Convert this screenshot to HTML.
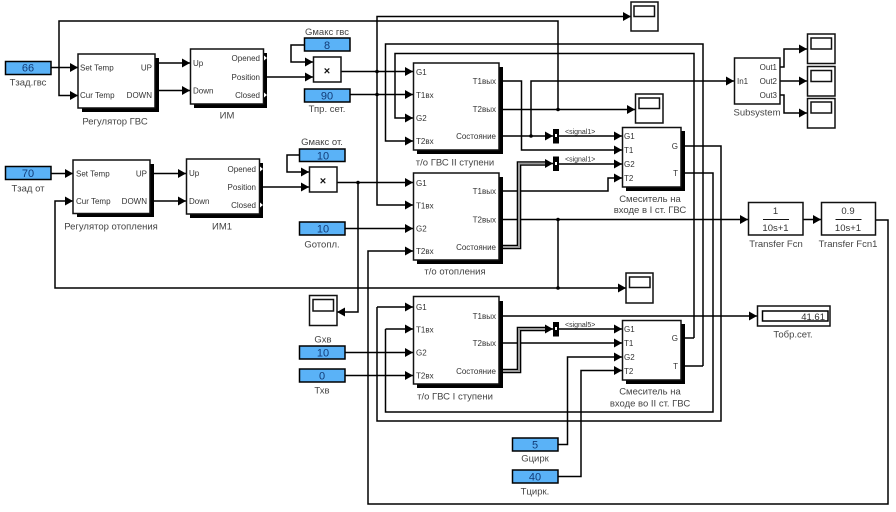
<!DOCTYPE html>
<html><head><meta charset="utf-8"><style>
html,body{margin:0;padding:0;background:#fff;width:896px;height:512px;overflow:hidden}
svg{display:block}
text{font-family:"Liberation Sans","DejaVu Sans",sans-serif;fill:#333}
.p{font-size:8px}
.l{font-size:9.5px;text-anchor:middle;fill:#444}
.v{font-size:11px;text-anchor:middle;fill:#123c78}
.e{text-anchor:end}
.w{fill:none;stroke:#000;stroke-width:1.5;marker-end:url(#a)}
.n{fill:none;stroke:#000;stroke-width:1.5}
.b{fill:#fff;stroke:#111;stroke-width:1.5}
.s{fill:#000}
.c{fill:#5ab2f7;stroke:#000;stroke-width:1.5}
.bo{fill:none;stroke:#000;stroke-width:4.6}
.bi{fill:none;stroke:#999;stroke-width:2}
.sc{fill:#fff;stroke:#111;stroke-width:1.5}
</style></head><body>
<svg width="896" height="512" viewBox="0 0 896 512" xmlns="http://www.w3.org/2000/svg">
<defs><marker id="a" markerUnits="userSpaceOnUse" markerWidth="8" markerHeight="9" refX="8" refY="4.5" orient="auto"><path d="M0,0L8,4.5L0,9Z" fill="#000"/></marker></defs>

<!-- wires -->
<polyline class="w" points="51,67.5 78,67.5"/>
<polyline class="w" points="558,109.5 558,21 59,21 59,95.5 78,95.5"/>
<polyline class="w" points="159,63 190,63"/>
<polyline class="w" points="159,90.5 190,90.5"/>
<polyline class="w" points="267,77 313,77"/>
<polyline class="w" points="304,45 291,45 291,62 313,62"/>
<polyline class="w" points="341,71.5 413,71.5"/>
<polyline class="w" points="350,94.5 413,94.5"/>
<polyline class="w" points="377,94.5 377,16.5 631,16.5"/>
<polyline class="w" points="377,94.5 377,205 413,205"/>
<polyline class="w" points="694,338 694,53.5 395,53.5 395,118 413,118"/>
<polyline class="w" points="703,366 703,44 385.5,44 385.5,141 413,141"/>
<polyline class="w" points="503,81 521.5,81 521.5,150 622,150"/>
<polyline class="w" points="503,109.5 635,109.5"/>
<polyline class="w" points="503,136 553,136"/>
<polyline class="w" points="531,136 531,81 734,81"/>
<polyline class="w" points="558,136 622,136"/>
<polyline class="w" points="558,164 622,164"/>
<polyline class="w" points="503,191 608,191 608,178 622,178"/>
<polyline class="w" points="780,67 784,67 784,49 807,49"/>
<polyline class="w" points="780,81 807,81"/>
<polyline class="w" points="780,95 784,95 784,113 807,113"/>
<polyline class="n" points="685,146 721,146 721,421 377,421 377,307"/>
<polyline class="w" points="377,307 413,307"/>
<polyline class="n" points="685,173 713,173 713,412 385.5,412 385.5,329"/>
<polyline class="w" points="385.5,329 413,329"/>
<polyline class="n" points="681,338 694,338"/>
<polyline class="n" points="681,366 703,366"/>

<polyline class="w" points="51,173.5 73,173.5"/>
<polyline class="w" points="154,173.5 186,173.5"/>
<polyline class="w" points="154,201 186,201"/>
<polyline class="w" points="263,187 309,187"/>
<polyline class="w" points="300,155 287,155 287,172 309,172"/>
<polyline class="w" points="337,182.5 413,182.5"/>
<polyline class="w" points="358,182.5 358,312 337,312"/>
<polyline class="w" points="345,228.5 413,228.5"/>
<polyline class="w" points="875,220 888,220 888,504 368,504 368,251 413,251"/>
<polyline class="w" points="503,219.5 748,219.5"/>
<polyline class="w" points="803,219.5 821,219.5"/>
<polyline class="n" points="558,219.5 558,288"/>
<polyline class="w" points="558,288 55,288 55,201 73,201"/>
<polyline class="w" points="558,288 626,288"/>

<polyline class="w" points="345,352.5 413,352.5"/>
<polyline class="w" points="345,375.5 413,375.5"/>
<polyline class="w" points="503,316 757,316"/>
<polyline class="w" points="503,343 622,343"/>
<polyline class="w" points="558,329 622,329"/>
<polyline class="w" points="558,444.5 567.5,444.5 567.5,357 622,357"/>
<polyline class="w" points="558,476.5 581,476.5 581,370.5 622,370.5"/>

<!-- bus wires -->
<polyline class="bo" points="503,247 519,247 519,163.5 548,163.5"/>
<polyline class="bi" points="503,247 519,247 519,163.5 548,163.5"/>
<polyline class="w" points="545,163.5 553,163.5"/>
<polyline class="bo" points="503,371 519,371 519,329 548,329"/>
<polyline class="bi" points="503,371 519,371 519,329 548,329"/>
<polyline class="w" points="545,329 553,329"/>

<!-- junctions -->
<g fill="#000">
<circle cx="377" cy="71.5" r="1.8"/><circle cx="377" cy="94.5" r="1.8"/>
<circle cx="558" cy="109.5" r="1.8"/><circle cx="531" cy="136" r="1.8"/><circle cx="358" cy="182.5" r="1.8"/>
<circle cx="558" cy="219.5" r="1.8"/><circle cx="558" cy="288" r="1.8"/>
</g>

<!-- bus creators -->
<g fill="#000">
<rect x="553" y="129" width="6" height="14.5"/><rect x="553" y="156.5" width="6" height="14.5"/><rect x="553" y="322" width="6" height="14.5"/>
</g>
<g fill="#fff"><rect x="555" y="134" width="2" height="3"/><rect x="555" y="162" width="2" height="3"/><rect x="555" y="327" width="2" height="3"/></g>
<text class="p" x="565" y="134" style="font-size:7px">&lt;signal1&gt;</text>
<text class="p" x="565" y="161.5" style="font-size:7px">&lt;signal1&gt;</text>
<text class="p" x="565" y="327" style="font-size:7px">&lt;signal5&gt;</text>

<!-- constants -->
<rect class="c" x="5.5" y="61.5" width="45.5" height="13"/><text class="v" x="28" y="71.5">66</text><text class="l" x="28" y="85.5">Тзад.гвс</text>
<rect class="c" x="5.5" y="166.5" width="45.5" height="13"/><text class="v" x="28" y="177">70</text><text class="l" x="28" y="191.5">Тзад от</text>
<rect class="c" x="304.5" y="38" width="45.5" height="13"/><text class="v" x="327" y="49">8</text><text class="l" x="327" y="35">Gмакс гвс</text>
<rect class="c" x="304.5" y="89" width="45.5" height="13"/><text class="v" x="327" y="99.5">90</text><text class="l" x="327" y="112">Тпр. сет.</text>
<rect class="c" x="299.5" y="149" width="45.5" height="12.5"/><text class="v" x="323" y="159.5">10</text><text class="l" x="322" y="145">Gмакс от.</text>
<rect class="c" x="299.5" y="222" width="45.5" height="13"/><text class="v" x="323" y="232.5">10</text><text class="l" x="322" y="247.5">Gотопл.</text>
<rect class="c" x="299.5" y="346" width="45.5" height="13"/><text class="v" x="323" y="356.5">10</text><text class="l" x="323" y="342.5">Gхв</text>
<rect class="c" x="299.5" y="369" width="45.5" height="13"/><text class="v" x="322" y="379.5">0</text><text class="l" x="322" y="393.5">Тхв</text>
<rect class="c" x="512.5" y="438" width="45.5" height="13"/><text class="v" x="535" y="448.5">5</text><text class="l" x="535" y="461.5">Gцирк</text>
<rect class="c" x="512.5" y="470" width="45.5" height="13"/><text class="v" x="535" y="480.5">40</text><text class="l" x="535" y="494.5">Тцирк.</text>

<!-- Regulator GVS -->
<rect class="s" x="82" y="58" width="77" height="54"/><rect class="b" x="78" y="54" width="77" height="54"/>
<text class="p" x="80" y="70.5">Set Temp</text><text class="p" x="80" y="98">Cur Temp</text>
<text class="p e" x="152" y="70.5">UP</text><text class="p e" x="152" y="98">DOWN</text>
<text class="l" x="115" y="124.5">Регулятор ГВС</text>
<!-- IM -->
<rect class="s" x="194" y="53" width="73" height="55"/><rect class="b" x="190.5" y="49" width="73" height="55"/>
<text class="p" x="193" y="66">Up</text><text class="p" x="193" y="93.5">Down</text>
<text class="p e" x="260" y="61">Opened</text><text class="p e" x="260" y="80">Position</text><text class="p e" x="260" y="98">Closed</text>
<path d="M264,55.5l3,2.5l-3,2.5zM264,92.5l3,2.5l-3,2.5z" fill="#fff"/>
<text class="l" x="227" y="118.5">ИМ</text>
<!-- Regulator heating -->
<rect class="s" x="77" y="164" width="77" height="53"/><rect class="b" x="73" y="160" width="77" height="53.5"/>
<text class="p" x="76" y="176.5">Set Temp</text><text class="p" x="76" y="204">Cur Temp</text>
<text class="p e" x="147" y="176.5">UP</text><text class="p e" x="147" y="204">DOWN</text>
<text class="l" x="111" y="229.5">Регулятор отопления</text>
<!-- IM1 -->
<rect class="s" x="190" y="163" width="73" height="55"/><rect class="b" x="186.5" y="159" width="73" height="55"/>
<text class="p" x="189" y="176">Up</text><text class="p" x="189" y="204">Down</text>
<text class="p e" x="256" y="172">Opened</text><text class="p e" x="256" y="190">Position</text><text class="p e" x="256" y="208">Closed</text>
<path d="M260,166.5l3,2.5l-3,2.5zM260,202.5l3,2.5l-3,2.5z" fill="#fff"/>
<text class="l" x="222" y="229.5">ИМ1</text>

<!-- multiply -->
<rect class="b" x="313.5" y="57" width="27.5" height="25"/><text x="327" y="74.5" style="font-size:11px;font-weight:bold;text-anchor:middle;fill:#111">×</text>
<rect class="b" x="309.5" y="167" width="27.5" height="25"/><text x="323" y="184.5" style="font-size:11px;font-weight:bold;text-anchor:middle;fill:#111">×</text>

<!-- HX II -->
<rect class="s" x="417" y="67" width="86" height="87"/><rect class="b" x="413.5" y="63" width="85.5" height="87"/>
<text class="p" x="416" y="75">G1</text><text class="p" x="416" y="98">T1вх</text><text class="p" x="416" y="121">G2</text><text class="p" x="416" y="144">T2вх</text>
<text class="p e" x="496" y="84">T1вых</text><text class="p e" x="496" y="112">T2вых</text><text class="p e" x="496" y="139">Состояние</text>
<text class="l" x="455" y="165.5">т/о ГВС II ступени</text>
<!-- HX heating -->
<rect class="s" x="417" y="177" width="86" height="87"/><rect class="b" x="413.5" y="173" width="85.5" height="87"/>
<text class="p" x="416" y="186">G1</text><text class="p" x="416" y="208.5">T1вх</text><text class="p" x="416" y="231.5">G2</text><text class="p" x="416" y="254">T2вх</text>
<text class="p e" x="496" y="194">T1вых</text><text class="p e" x="496" y="222.5">T2вых</text><text class="p e" x="496" y="250">Состояние</text>
<text class="l" x="455" y="274.5">т/о отопления</text>
<!-- HX I -->
<rect class="s" x="417" y="301" width="86" height="87"/><rect class="b" x="413.5" y="296.5" width="85.5" height="87.5"/>
<text class="p" x="416" y="310">G1</text><text class="p" x="416" y="332.5">T1вх</text><text class="p" x="416" y="355.5">G2</text><text class="p" x="416" y="378.5">T2вх</text>
<text class="p e" x="496" y="319">T1вых</text><text class="p e" x="496" y="346">T2вых</text><text class="p e" x="496" y="374">Состояние</text>
<text class="l" x="455" y="399.5">т/о ГВС I ступени</text>

<!-- Mixer I -->
<rect class="s" x="626" y="131" width="59" height="60"/><rect class="b" x="622.5" y="127.5" width="58.5" height="59.5"/>
<text class="p" x="624" y="139">G1</text><text class="p" x="624" y="153">T1</text><text class="p" x="624" y="167">G2</text><text class="p" x="624" y="181">T2</text>
<text class="p e" x="678" y="149">G</text><text class="p e" x="678" y="176">T</text>
<text class="l" x="650" y="202">Смеситель на</text><text class="l" x="650" y="213">входе в I ст. ГВС</text>
<!-- Mixer II -->
<rect class="s" x="626" y="324" width="59" height="60"/><rect class="b" x="622.5" y="320.5" width="58.5" height="59.5"/>
<text class="p" x="624" y="332">G1</text><text class="p" x="624" y="346">T1</text><text class="p" x="624" y="360">G2</text><text class="p" x="624" y="374">T2</text>
<text class="p e" x="678" y="341">G</text><text class="p e" x="678" y="369">T</text>
<text class="l" x="650" y="394.5">Смеситель на</text><text class="l" x="650" y="406.5">входе во II ст. ГВС</text>

<!-- Subsystem -->
<rect class="b" x="734.5" y="58" width="45.5" height="46"/>
<text class="p" x="737" y="84">In1</text><text class="p e" x="777" y="70">Out1</text><text class="p e" x="777" y="84">Out2</text><text class="p e" x="777" y="98">Out3</text>
<text class="l" x="757" y="115.5">Subsystem</text>

<!-- Transfer fcns -->
<rect class="b" x="748.5" y="202.5" width="54.5" height="32.5"/>
<text x="775.5" y="214" style="font-size:9.5px;text-anchor:middle">1</text><line x1="763" y1="219.5" x2="789" y2="219.5" stroke="#111" stroke-width="1"/><text x="775.5" y="231" style="font-size:9.5px;text-anchor:middle">10s+1</text>
<text class="l" x="776" y="247">Transfer Fcn</text>
<rect class="b" x="821.5" y="202.5" width="54" height="32.5"/>
<text x="848" y="214" style="font-size:9.5px;text-anchor:middle">0.9</text><line x1="835.5" y1="219.5" x2="861.5" y2="219.5" stroke="#111" stroke-width="1"/><text x="848" y="231" style="font-size:9.5px;text-anchor:middle">10s+1</text>
<text class="l" x="848" y="247">Transfer Fcn1</text>

<!-- Display -->
<rect class="b" x="757.5" y="306" width="72.5" height="20"/>
<rect fill="#fff" stroke="#000" stroke-width="1.5" x="762.5" y="311" width="65.5" height="10"/>
<text x="825" y="320" style="font-size:9.5px;text-anchor:end">41.61</text>
<text class="l" x="793" y="337.5">Тобр.сет.</text>

<!-- Scopes -->
<g>
<rect class="sc" x="631" y="2" width="27" height="29"/><rect class="sc" x="634" y="6" width="20.5" height="10.5"/>
<rect class="sc" x="635.5" y="94" width="27.5" height="29"/><rect class="sc" x="639" y="98" width="20.5" height="10.5"/>
<rect class="sc" x="807.5" y="34" width="27.5" height="29.5"/><rect class="sc" x="811" y="38" width="20.5" height="11"/>
<rect class="sc" x="807.5" y="66.5" width="27.5" height="29.5"/><rect class="sc" x="811" y="70.5" width="20.5" height="11"/>
<rect class="sc" x="807.5" y="98.5" width="27.5" height="29.5"/><rect class="sc" x="811" y="102" width="20.5" height="11"/>
<rect class="sc" x="626" y="273" width="27" height="30"/><rect class="sc" x="629.5" y="277" width="20.5" height="10.5"/>
<rect class="sc" x="309.5" y="295.5" width="27.5" height="30"/><rect class="sc" x="313" y="299.5" width="20.5" height="11.5"/>
</g>
</svg>
</body></html>
